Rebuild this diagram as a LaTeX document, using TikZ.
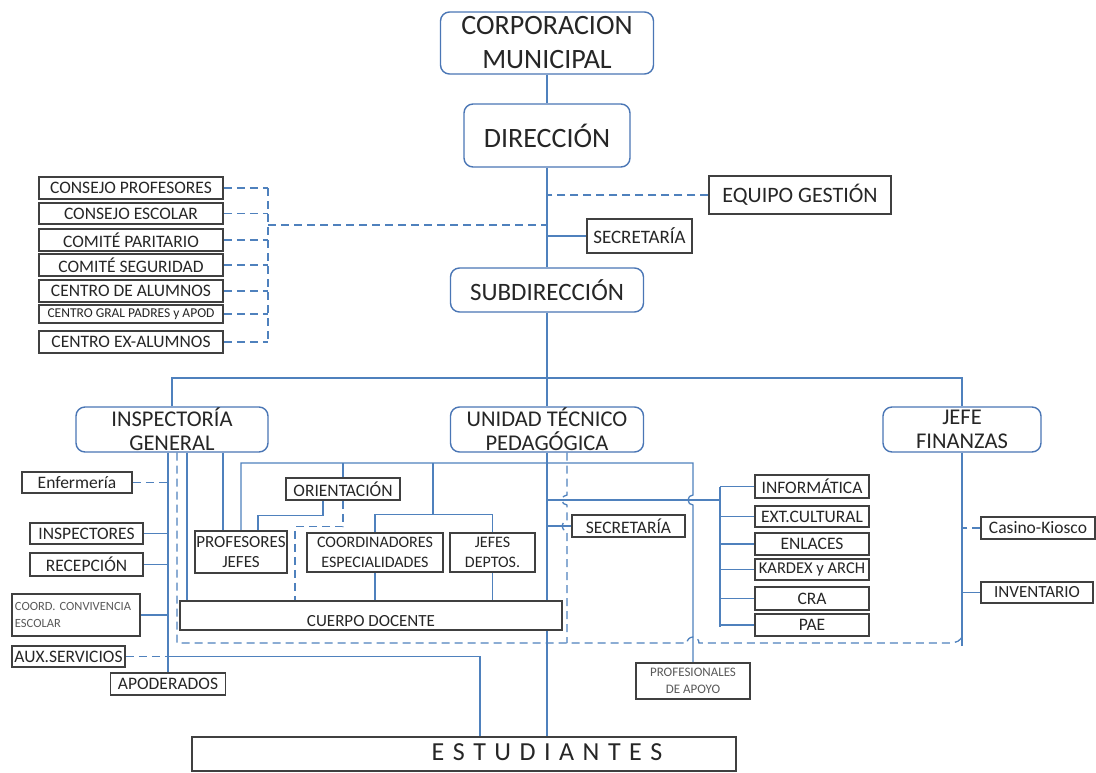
\documentclass[tikz,border=0pt]{standalone}
\usepackage{fontspec}
\setmainfont{Carlito}
\usetikzlibrary{calc,backgrounds}
\definecolor{lineblue}{HTML}{4F81BD}
\definecolor{boxblue}{HTML}{4A76B5}
\definecolor{boxgray}{HTML}{404040}
\definecolor{txtgray}{HTML}{595959}
\newcommand{\fsz}[2]{\fontsize{#1}{#2}\selectfont}
\newcommand{\estfont}{\fontsize{26}{30}\selectfont\spaceskip=8.5pt\relax}
\tikzset{
  rbox/.style={draw=boxblue, line width=1.4pt, rounded corners=9pt, fill=white,
    inner sep=0pt, align=center, text=black!85},
  sbox/.style={draw=boxgray, line width=1.5pt, fill=white,
    inner sep=0pt, align=center, text=black!85},
  boxsize/.style 2 args={minimum width=#1pt, minimum height=#2pt},
  conn/.style={draw=lineblue, line width=1.3pt},
  dconn/.style={conn, dash pattern=on 8pt off 5pt},
}

\begin{document}
\begin{tikzpicture}[x=1pt,y=-1pt]
\useasboundingbox (0,0) rectangle (1096,772);

% main line
\node[rbox, boxsize={213}{62}, font=\fsz{28}{34}] (corp) at (547,43) {CORPORACION\\MUNICIPAL};
\node[rbox, boxsize={166}{63}, font=\fsz{28}{34}] (dir) at (547,135.5) {DIRECCIÓN};
\node[rbox, boxsize={193}{44}, font=\fsz{25}{30}] (sub) at (547,290) {SUBDIRECCIÓN};
\node[rbox, boxsize={192}{45}, font=\fsz{22.5}{24}] (insp) at (172,429.5) {INSPECTORÍA\\GENERAL};
\node[rbox, boxsize={193}{45}, font=\fsz{22.5}{24}] (utp) at (547,429.5) {UNIDAD TÉCNICO\\PEDAGÓGICA};
\node[rbox, boxsize={158}{45}, font=\fsz{22.5}{24}] (fin) at (962,429.5) {JEFE\\FINANZAS};

\node[sbox, boxsize={182}{38}, font=\fsz{22}{26}] (equipo) at (800,195) {EQUIPO GESTIÓN};
\node[sbox, boxsize={105}{34}, font=\fsz{19}{22}] (sec1) at (639.5,236) {SECRETARÍA};

% consejos
\node[sbox, boxsize={184}{22}, font=\fsz{17.5}{20}] (cp) at (131,188) {CONSEJO PROFESORES};
\node[sbox, boxsize={184}{21}, font=\fsz{17.5}{20}] (ce) at (131,213.5) {CONSEJO ESCOLAR};
\node[sbox, boxsize={184}{22}, font=\fsz{17.5}{20}] (cpar) at (131,240) {COMITÉ PARITARIO};
\node[sbox, boxsize={184}{22}, font=\fsz{17.5}{20}] (cseg) at (131,265) {COMITÉ SEGURIDAD};
\node[sbox, boxsize={184}{22}, font=\fsz{17.5}{20}] (calum) at (131,291) {CENTRO DE ALUMNOS};
\node[sbox, boxsize={184}{18}, font=\fsz{13.5}{16}] (cpad) at (131,314) {CENTRO GRAL PADRES y APOD};
\node[sbox, boxsize={184}{22}, font=\fsz{17.5}{20}] (cex) at (131,342) {CENTRO EX-ALUMNOS};

% inspectoria
\node[sbox, boxsize={110}{21}, font=\fsz{17.5}{20}] (enf) at (77,482.5) {Enfermería};
\node[sbox, boxsize={113}{21}, font=\fsz{17.5}{20}] (insps) at (86.5,533.5) {INSPECTORES};
\node[sbox, boxsize={113}{23}, font=\fsz{17.5}{20}] (recep) at (86.5,564.5) {RECEPCIÓN};
\node[sbox, boxsize={128}{42}, font=\fsz{12.5}{17}, text=txtgray, text width=122pt, align=left] (conv) at (76,615) {COORD. CONVIVENCIA\\ESCOLAR};
\node[sbox, boxsize={113}{21}, font=\fsz{17.5}{20}] (aux) at (68.5,656.5) {AUX.SERVICIOS};
\node[sbox, boxsize={115}{22}, font=\fsz{17.5}{20}] (apod) at (168,684) {APODERADOS};

% docentes
\node[sbox, boxsize={92}{42}, font=\fsz{17}{20}] (profj) at (241,552) {PROFESORES\\JEFES};
\node[sbox, boxsize={114}{22}, font=\fsz{17.5}{20}] (orient) at (343,489) {ORIENTACIÓN};
\node[sbox, boxsize={136}{39}, font=\fsz{16}{20}] (coord) at (375,552.5) {COORDINADORES\\ESPECIALIDADES};
\node[sbox, boxsize={85}{39}, font=\fsz{16}{20}] (jefd) at (492.5,552.5) {JEFES\\DEPTOS.};
\node[sbox, boxsize={382}{29}, label={[yshift=-5.5pt, font=\fsz{17}{20}, text=black!85]center:CUERPO DOCENTE}] (cuerpo) at (371,615.5) {};

% utp
\node[sbox, boxsize={113}{22}, font=\fsz{17.5}{20}] (sec2) at (628.5,526) {SECRETARÍA};
\node[sbox, boxsize={114}{23}, font=\fsz{17.5}{20}] (info) at (812,486.5) {INFORMÁTICA};
\node[sbox, boxsize={114}{21}, font=\fsz{17.5}{20}] (ext) at (812,516.5) {EXT.CULTURAL};
\node[sbox, boxsize={114}{22}, font=\fsz{17.5}{20}] (enl) at (812,544) {ENLACES};
\node[sbox, boxsize={114}{21}, font=\fsz{16.5}{20}] (kardex) at (812,569.5) {KARDEX y ARCH};
\node[sbox, boxsize={114}{23}, font=\fsz{17.5}{20}] (cra) at (812,598.5) {CRA};
\node[sbox, boxsize={114}{22}, font=\fsz{17.5}{20}] (pae) at (812,625) {PAE};
\node[sbox, boxsize={114}{36}, font=\fsz{13}{17}, text=txtgray] (prof) at (693,681) {PROFESIONALES\\DE APOYO};

% finanzas
\node[sbox, boxsize={114}{22}, font=\fsz{17.5}{20}] (casino) at (1038,528) {Casino-Kiosco};
\node[sbox, boxsize={112}{21}, font=\fsz{17}{20}] (inv) at (1037,592.5) {INVENTARIO};

\node[sbox, boxsize={544}{34}, label={[xshift=83pt, yshift=2pt, font=\estfont, text=black!85]center:E S T U D I A N T E S}] (est) at (464,754) {};

\begin{scope}[on background layer]
% trunk
\draw[conn] (corp) -- (dir);
\draw[conn] (dir) -- (sub);
\draw[conn] (sub) -- (utp);
\coordinate (bar) at (547,378);
\draw[conn] (insp.north) |- (bar) -| (fin.north);
\draw[conn] (utp.south) -- (utp.south |- est.north);
\draw[dconn] (equipo.west) -- (equipo.west -| dir.south);
\draw[conn] (sec1.west) -- (sec1.west -| dir.south);

% consejos
\coordinate (lbrk) at (268,188);
\foreach \n in {cp,ce,cpar,cseg,calum,cpad,cex}
  \draw[dconn] (\n.east) -- (\n.east -| lbrk);
\draw[dconn] (cp.east -| lbrk) -- (cex.east -| lbrk);
\coordinate (ljoin) at (268,225);
\draw[dconn] (ljoin) -- (ljoin -| dir.south);

% inspectoria
\draw[conn] (apod.north |- insp.south) -- (apod.north);
\draw[dconn] (enf.east) -- (enf.east -| apod.north);
\foreach \n in {insps,recep,conv}
  \draw[conn] (\n.east) -- (\n.east -| apod.north);
\draw[dconn] (aux.east) -- (aux.east -| apod.north);
\coordinate (auxd) at (480,656);
\draw[conn] (aux.east -| apod.north) -| (auxd |- est.north);
\draw[conn] ([xshift=15pt]insp.south) -- ([xshift=15pt]insp.south |- cuerpo.north);
\draw[conn] ([xshift=-18pt]profj.north |- insp.south) -- ([xshift=-18pt]profj.north);

% docentes
\coordinate (utpbar) at (547,463);
\coordinate (hb) at (720,500);
\draw[conn] (profj.north) |- (utpbar) -- (prof.north |- utpbar)
  -- ($(prof.north |- hb)+(0,-5)$) arc[start angle=90, end angle=270, radius=5pt] -- (prof.north);
\draw[conn] (orient.north) -- (orient.north |- utpbar);
\draw[conn] ([xshift=-20pt]orient.south) -- ++(0,15) -| ([xshift=17pt]profj.north);
\draw[dconn] (orient.south) -- ++(0,26) -| ([xshift=-76pt]cuerpo.north);
\draw[conn] ([xshift=58pt]coord.north |- utpbar) -- ++(0,52);
\draw[conn] (coord.north) -- ++(0,-18) -| (jefd.north);
\draw[conn] (coord.south) -- (coord.south |- cuerpo.north);
\draw[conn] (jefd.south) -- (jefd.south |- cuerpo.north);

% utp
\draw[conn] (hb -| utp.south) -- (hb);
\draw[conn] (info.west -| hb) -- ([yshift=-2pt]pae.west -| hb);
\foreach \n in {info,ext,enl,kardex,cra,pae}
  \draw[conn] (\n.west -| hb) -- (\n.west);
\draw[conn] (sec2.west -| utp.south) -- (sec2.west);
\coordinate (dh) at (567,643);
\draw[dconn] ([xshift=20pt]utp.south) -- ($(hb -| dh)+(0,-5)$) arc[start angle=90, end angle=270, radius=5pt]
  -- ($(sec2.west -| dh)+(0,-5)$) arc[start angle=90, end angle=270, radius=5pt] -- (dh);
\draw[dconn] ([xshift=5pt]insp.south) -- ([xshift=5pt]insp.south |- dh)
  -- ($(prof.north |- dh)+(-6,0)$) arc[start angle=180, end angle=0, radius=6pt]
  -- ($(fin.south |- dh)+(-12,0)$) to[out=0, in=-90] ($(fin.south |- dh)+(0,-8)$);

% finanzas
\draw[conn] (fin.south) -- ++(0,193);
\draw[dconn] (casino.west) -- (casino.west -| fin.south);
\draw[conn] (inv.west) -- (inv.west -| fin.south);
\end{scope}
\end{tikzpicture}
\end{document}
